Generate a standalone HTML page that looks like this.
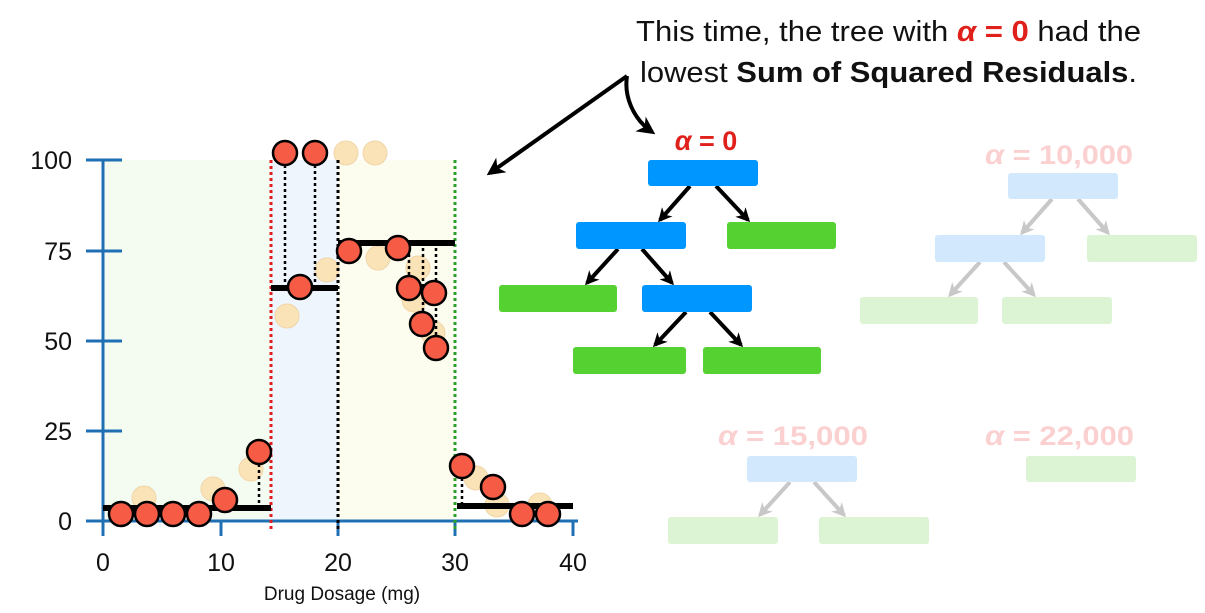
<!DOCTYPE html>
<html><head><meta charset="utf-8"><style>
body{margin:0;background:#fff;}
svg{display:block;font-family:"Liberation Sans",sans-serif;}
</style></head><body>
<svg width="1205" height="613" viewBox="0 0 1205 613">
<defs>
<marker id="ag" markerWidth="14" markerHeight="14" refX="11" refY="7" orient="auto" markerUnits="userSpaceOnUse"><path d="M0,0 L14,7 L0,14 L4,7z" fill="#c8c8c8"/></marker>
<marker id="ak" markerWidth="14" markerHeight="14" refX="11" refY="7" orient="auto" markerUnits="userSpaceOnUse"><path d="M0,0 L14,7 L0,14 L4,7z" fill="#000"/></marker>
<marker id="ak2" markerWidth="18" markerHeight="18" refX="14" refY="9" orient="auto" markerUnits="userSpaceOnUse"><path d="M0,0 L18,9 L0,18 L5,9z" fill="#000"/></marker>
</defs>
<rect x="103" y="160" width="168" height="361" fill="#f4fbf0"/>
<rect x="271" y="160" width="67" height="361" fill="#eef5fc"/>
<rect x="338" y="160" width="117" height="361" fill="#fcfcef"/>
<g stroke="#1f6fb5" stroke-width="3">
<line x1="103" y1="160" x2="103" y2="536"/>
<line x1="86" y1="521" x2="578" y2="521"/>
<line x1="86" y1="160" x2="122" y2="160"/><line x1="86" y1="251" x2="122" y2="251"/>
<line x1="86" y1="341" x2="122" y2="341"/><line x1="86" y1="431" x2="122" y2="431"/>
<line x1="221" y1="521" x2="221" y2="536"/><line x1="338" y1="521" x2="338" y2="536"/>
<line x1="455" y1="521" x2="455" y2="536"/><line x1="573" y1="521" x2="573" y2="536"/>
</g>
<g font-size="25" fill="#111" text-anchor="end">
<text x="72" y="169">100</text><text x="72" y="260">75</text><text x="72" y="350">50</text><text x="72" y="440">25</text><text x="72" y="530">0</text>
</g>
<g font-size="25" fill="#111" text-anchor="middle">
<text x="103" y="571">0</text><text x="221" y="571">10</text><text x="338" y="571">20</text><text x="455" y="571">30</text><text x="573" y="571">40</text>
</g>
<text x="342" y="600" font-size="19" text-anchor="middle" fill="#111">Drug Dosage (mg)</text>
<g fill="#fbe3b8" stroke="#f0d5a8" stroke-width="1">
<circle cx="144" cy="498" r="12"/><circle cx="213" cy="489" r="12"/><circle cx="251" cy="469" r="12"/>
<circle cx="287" cy="316" r="12"/><circle cx="327" cy="270" r="12"/><circle cx="346" cy="153" r="12"/><circle cx="375" cy="153" r="12"/>
<circle cx="378" cy="258" r="12"/><circle cx="418" cy="268" r="12"/><circle cx="414" cy="300" r="12"/><circle cx="433" cy="333" r="12"/>
<circle cx="476" cy="478" r="12"/><circle cx="497" cy="505" r="12"/><circle cx="540" cy="505" r="12"/>
</g>
<g stroke-width="3" stroke-dasharray="3,3">
<line x1="271" y1="160" x2="271" y2="530" stroke="#e02020"/>
<line x1="338" y1="160" x2="338" y2="530" stroke="#000"/>
<line x1="455" y1="160" x2="455" y2="530" stroke="#2aa02a"/>
</g>
<g stroke="#000" stroke-width="2.5" stroke-dasharray="3,3">
<line x1="259" y1="452" x2="259" y2="508"/><line x1="285" y1="153" x2="285" y2="288"/><line x1="315" y1="153" x2="315" y2="288"/>
<line x1="409" y1="248" x2="409" y2="288"/><line x1="423" y1="248" x2="423" y2="324"/><line x1="436" y1="248" x2="436" y2="348"/>
<line x1="462" y1="466" x2="462" y2="506"/>
</g>
<g stroke="#000" stroke-width="6">
<line x1="103" y1="508" x2="271" y2="508"/><line x1="271" y1="288" x2="338" y2="288"/>
<line x1="338" y1="243" x2="455" y2="243"/><line x1="457" y1="506" x2="573" y2="506"/>
</g>
<g fill="#f55b45" stroke="#000" stroke-width="2.5">
<circle cx="121" cy="514" r="12"/><circle cx="147" cy="514" r="12"/><circle cx="173" cy="514" r="12"/><circle cx="199" cy="514" r="12"/>
<circle cx="225" cy="500" r="12"/><circle cx="259" cy="452" r="12"/><circle cx="285" cy="153" r="12"/><circle cx="315" cy="153" r="12"/>
<circle cx="300" cy="287" r="12"/><circle cx="349" cy="251" r="12"/><circle cx="398" cy="248" r="12"/><circle cx="409" cy="288" r="12"/>
<circle cx="434" cy="293" r="12"/><circle cx="422" cy="324" r="12"/><circle cx="436" cy="348" r="12"/><circle cx="462" cy="466" r="12"/>
<circle cx="493" cy="487" r="12"/><circle cx="522" cy="514" r="12"/><circle cx="548" cy="514" r="12"/>
</g>
<g font-size="29" fill="#111">
<text x="636" y="41" textLength="505" lengthAdjust="spacingAndGlyphs">This time, the tree with <tspan fill="#e0201a" font-weight="bold" font-style="italic">α</tspan><tspan fill="#e0201a" font-weight="bold"> = 0</tspan> had the</text>
<text x="640" y="82" textLength="497" lengthAdjust="spacingAndGlyphs">lowest <tspan font-weight="bold">Sum of Squared Residuals</tspan>.</text>
</g>
<g stroke="#000" stroke-width="4" fill="none" stroke-linejoin="round">
<line x1="627" y1="76" x2="490" y2="173" marker-end="url(#ak2)"/>
<path d="M627,76 C624,95 632,118 652,132" marker-end="url(#ak2)"/>
</g>
<text x="706" y="150" font-size="27" font-weight="bold" fill="#e0201a" text-anchor="middle"><tspan font-style="italic">α</tspan> = 0</text>
<g stroke="#000" stroke-width="4">
<line x1="690" y1="186" x2="660" y2="220" marker-end="url(#ak)"/><line x1="716" y1="186" x2="748" y2="220" marker-end="url(#ak)"/>
<line x1="618" y1="249" x2="587" y2="283" marker-end="url(#ak)"/><line x1="642" y1="249" x2="672" y2="283" marker-end="url(#ak)"/>
<line x1="686" y1="312" x2="655" y2="345" marker-end="url(#ak)"/><line x1="710" y1="312" x2="741" y2="345" marker-end="url(#ak)"/>
</g>
<rect x="648" y="160" width="110" height="26" rx="3" fill="#0096ff"/>
<rect x="576" y="222" width="110" height="27" rx="3" fill="#0096ff"/>
<rect x="727" y="222" width="109" height="27" rx="3" fill="#55d232"/>
<rect x="499" y="285" width="118" height="27" rx="3" fill="#55d232"/>
<rect x="642" y="285" width="110" height="27" rx="3" fill="#0096ff"/>
<rect x="573" y="347" width="113" height="27" rx="3" fill="#55d232"/>
<rect x="703" y="347" width="118" height="27" rx="3" fill="#55d232"/>
<text x="985" y="164" font-size="27" font-weight="bold" fill="#fbd0d0" textLength="148" lengthAdjust="spacingAndGlyphs"><tspan font-style="italic">α</tspan> = 10,000</text>
<g stroke="#c8c8c8" stroke-width="4">
<line x1="1052" y1="199" x2="1022" y2="233" marker-end="url(#ag)"/><line x1="1078" y1="199" x2="1108" y2="233" marker-end="url(#ag)"/>
<line x1="980" y1="262" x2="950" y2="295" marker-end="url(#ag)"/><line x1="1004" y1="262" x2="1034" y2="295" marker-end="url(#ag)"/>
</g>
<rect x="1008" y="173" width="110" height="26" rx="3" fill="#d2e8fc"/>
<rect x="935" y="235" width="110" height="27" rx="3" fill="#d2e8fc"/>
<rect x="1087" y="235" width="110" height="27" rx="3" fill="#dcf4d4"/>
<rect x="860" y="297" width="118" height="27" rx="3" fill="#dcf4d4"/>
<rect x="1002" y="297" width="110" height="27" rx="3" fill="#dcf4d4"/>
<text x="718" y="445" font-size="27" font-weight="bold" fill="#fbd0d0" textLength="150" lengthAdjust="spacingAndGlyphs"><tspan font-style="italic">α</tspan> = 15,000</text>
<g stroke="#c8c8c8" stroke-width="4">
<line x1="790" y1="482" x2="760" y2="515" marker-end="url(#ag)"/><line x1="814" y1="482" x2="844" y2="515" marker-end="url(#ag)"/>
</g>
<rect x="747" y="456" width="110" height="26" rx="3" fill="#d2e8fc"/>
<rect x="668" y="517" width="110" height="27" rx="3" fill="#dcf4d4"/>
<rect x="819" y="517" width="110" height="27" rx="3" fill="#dcf4d4"/>
<text x="985" y="445" font-size="27" font-weight="bold" fill="#fbd0d0" textLength="149" lengthAdjust="spacingAndGlyphs"><tspan font-style="italic">α</tspan> = 22,000</text>
<rect x="1026" y="456" width="110" height="26" rx="3" fill="#dcf4d4"/>
</svg>
</body></html>
